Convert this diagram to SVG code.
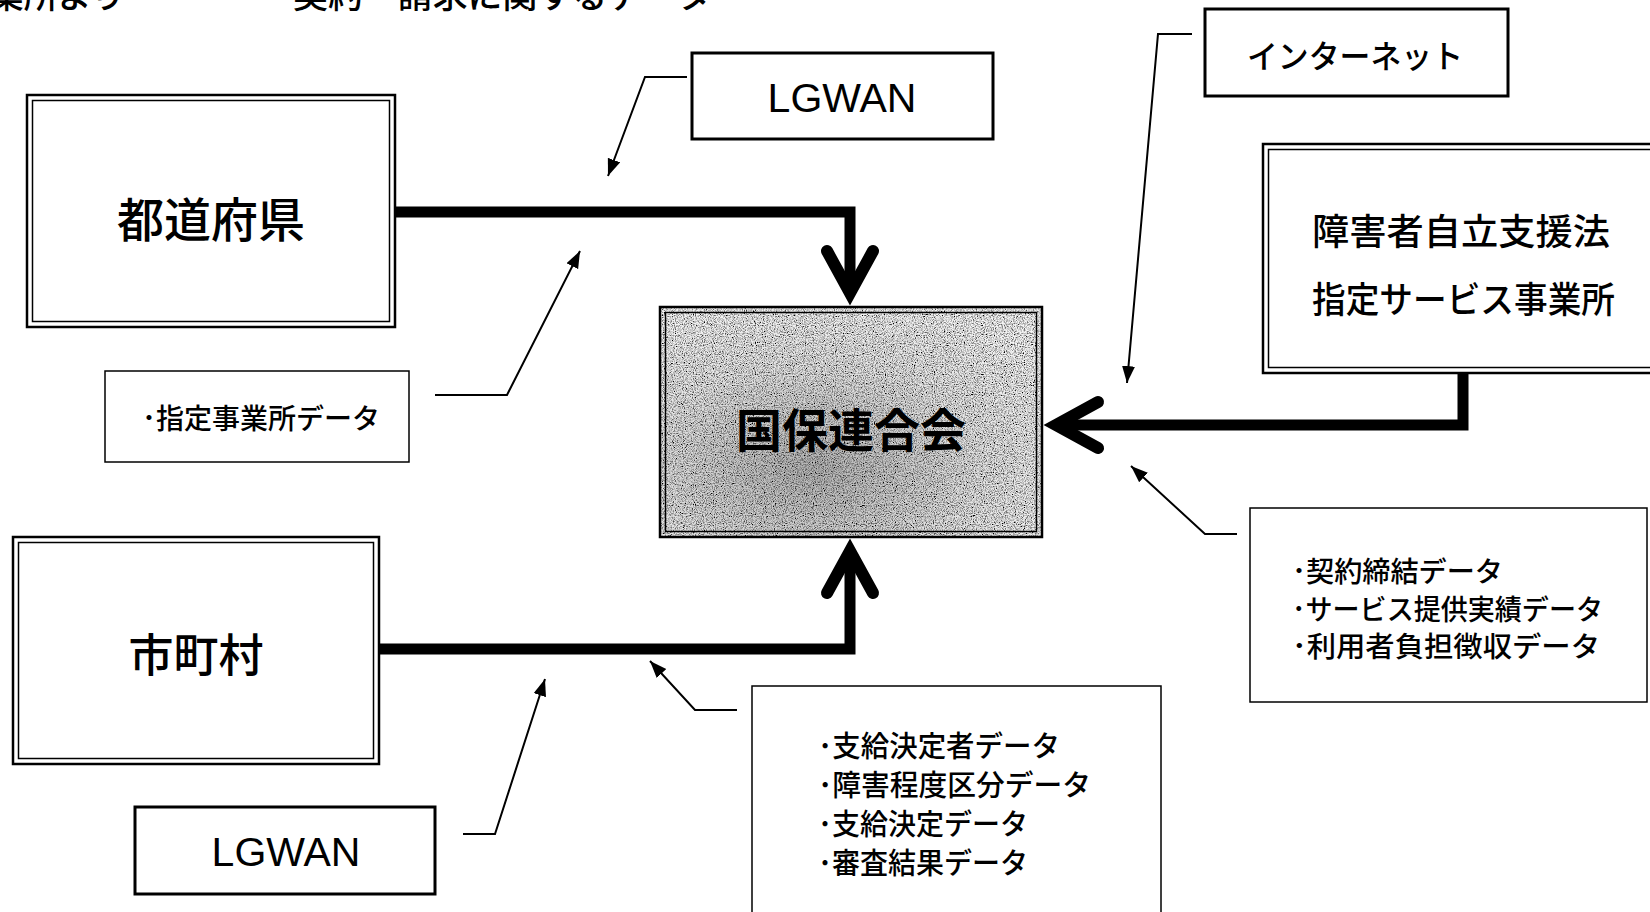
<svg xmlns="http://www.w3.org/2000/svg" width="1650" height="912" viewBox="0 0 1650 912">
<style>
.jp{font-family:"Noto Sans CJK JP","Noto Sans CJK SC",sans-serif;fill:#000;font-weight:500}
.lat{font-family:"Liberation Sans",Arial,sans-serif;fill:#000}
.c{dominant-baseline:central}
.o{fill:none;stroke:#000;stroke-width:2.5}
.i{fill:none;stroke:#000;stroke-width:1.5}
.thick{fill:none;stroke:#000;stroke-width:11;stroke-linejoin:miter}
.chev{fill:none;stroke:#000;stroke-width:12;stroke-linecap:round;stroke-linejoin:miter;stroke-miterlimit:4}
.lead{fill:none;stroke:#000;stroke-width:2}
.box3{fill:#fff;stroke:#000;stroke-width:3}
.box1{fill:#fff;stroke:#000;stroke-width:1.5}
</style>
<defs>
<marker id="ah" markerUnits="userSpaceOnUse" markerWidth="18" markerHeight="14" refX="17" refY="6.5" orient="auto">
<path d="M0,0 L17,6.5 L0,13 z" fill="#000"/>
</marker>
<radialGradient id="gg" cx="0.4" cy="0.7" r="0.75">
<stop offset="0" stop-color="#b4b4b4"/>
<stop offset="0.6" stop-color="#e6e6e6"/>
<stop offset="1" stop-color="#f6f6f6"/>
</radialGradient>
<filter id="grain" x="0" y="0" width="1" height="1">
<feTurbulence type="fractalNoise" baseFrequency="0.9" numOctaves="2" seed="5" result="t"/>
<feColorMatrix in="t" type="matrix" values="2.5 0 0 0 -0.55  2.5 0 0 0 -0.55  2.5 0 0 0 -0.55  0 0 0 0 1" result="g"/>
<feBlend in="SourceGraphic" in2="g" mode="multiply" result="m"/>
<feComposite in="m" in2="SourceGraphic" operator="in"/>
</filter>
</defs>

<g id="header">
<text class="jp" x="125" y="8" font-size="34" text-anchor="end">事業所より</text>
<text class="jp" x="293" y="8" font-size="34" textLength="419" lengthAdjust="spacingAndGlyphs">契約・請求に関するデータ</text>
</g>

<g id="connectors">
<path class="thick" d="M395,212 H850 V293"/>
<path class="chev" d="M827,251 L850,293 L873,251"/>
<path class="thick" d="M379,649 H850 V551"/>
<path class="chev" d="M827,593 L850,551 L873,593"/>
<path class="thick" d="M1463,373 V425 H1056"/>
<path class="chev" d="M1098,402 L1056,425 L1098,448"/>
<path class="lead" d="M687,77 H645 L608,176" marker-end="url(#ah)"/>
<path class="lead" d="M435,395 H507 L580,251" marker-end="url(#ah)"/>
<path class="lead" d="M1192,34 H1158 L1127,383" marker-end="url(#ah)"/>
<path class="lead" d="M1237,534 H1205 L1131,466" marker-end="url(#ah)"/>
<path class="lead" d="M737,710 H695 L650,661" marker-end="url(#ah)"/>
<path class="lead" d="M463,834 H495 L545,679" marker-end="url(#ah)"/>
</g>

<g id="todofuken">
<rect x="27" y="95" width="368" height="232" fill="#fff" class="o"/>
<rect x="32.5" y="100.5" width="357" height="221" class="i"/>
<text class="jp c" x="211" y="216" font-size="47" text-anchor="middle">都道府県</text>
</g>

<g id="kokuhoren">
<rect x="660" y="307" width="382" height="230" fill="url(#gg)" filter="url(#grain)"/>
<rect x="660" y="307" width="382" height="230" class="o"/>
<rect x="665.5" y="312.5" width="371" height="219" class="i"/>
<text class="jp c" x="851" y="427" font-size="46" font-weight="bold" text-anchor="middle" style="font-weight:bold">国保連合会</text>
</g>

<g id="jigyosho">
<rect x="1263" y="144" width="420" height="229" fill="#fff" class="o"/>
<rect x="1268.5" y="149.5" width="409" height="218" class="i"/>
<text class="jp c" x="1312" y="229" font-size="36" textLength="298" lengthAdjust="spacingAndGlyphs">障害者自立支援法</text>
<text class="jp c" x="1312" y="297" font-size="36" textLength="303" lengthAdjust="spacingAndGlyphs">指定サービス事業所</text>
</g>

<g id="shichoson">
<rect x="13" y="537" width="366" height="227" fill="#fff" class="o"/>
<rect x="18.5" y="542.5" width="355" height="216" class="i"/>
<text class="jp c" x="196" y="652" font-size="45" text-anchor="middle">市町村</text>
</g>

<g id="lgwan-top">
<rect x="692" y="53" width="301" height="86" class="box3"/>
<text class="lat" x="842" y="112" font-size="41" text-anchor="middle">LGWAN</text>
</g>

<g id="lgwan-bottom">
<rect x="135" y="807" width="300" height="87" class="box3"/>
<text class="lat" x="286" y="866" font-size="41" text-anchor="middle">LGWAN</text>
</g>

<g id="internet">
<rect x="1205" y="9" width="303" height="87" class="box3"/>
<text class="jp c" x="1247" y="54" font-size="32" textLength="216" lengthAdjust="spacingAndGlyphs">インターネット</text>
</g>

<g id="data-shitei">
<rect x="105" y="371" width="304" height="91" class="box1"/>
<text class="jp c" x="142" y="417" font-size="28" textLength="238" lengthAdjust="spacingAndGlyphs">･指定事業所データ</text>
</g>

<g id="data-jigyosho">
<rect x="1250" y="508" width="397" height="194" class="box1"/>
<text class="jp c" x="1292" y="570" font-size="28" textLength="211" lengthAdjust="spacingAndGlyphs">･契約締結データ</text>
<text class="jp c" x="1292" y="608" font-size="28" textLength="311" lengthAdjust="spacingAndGlyphs">･サービス提供実績データ</text>
<text class="jp c" x="1292" y="645" font-size="28" textLength="308" lengthAdjust="spacingAndGlyphs">･利用者負担徴収データ</text>
</g>

<g id="data-shichoson">
<rect x="752" y="686" width="409" height="250" class="box1"/>
<text class="jp c" x="818" y="744" font-size="29" textLength="242" lengthAdjust="spacingAndGlyphs">･支給決定者データ</text>
<text class="jp c" x="818" y="783" font-size="29" textLength="273" lengthAdjust="spacingAndGlyphs">･障害程度区分データ</text>
<text class="jp c" x="818" y="822" font-size="29" textLength="210" lengthAdjust="spacingAndGlyphs">･支給決定データ</text>
<text class="jp c" x="818" y="861" font-size="29" textLength="210" lengthAdjust="spacingAndGlyphs">･審査結果データ</text>
</g>
</svg>
